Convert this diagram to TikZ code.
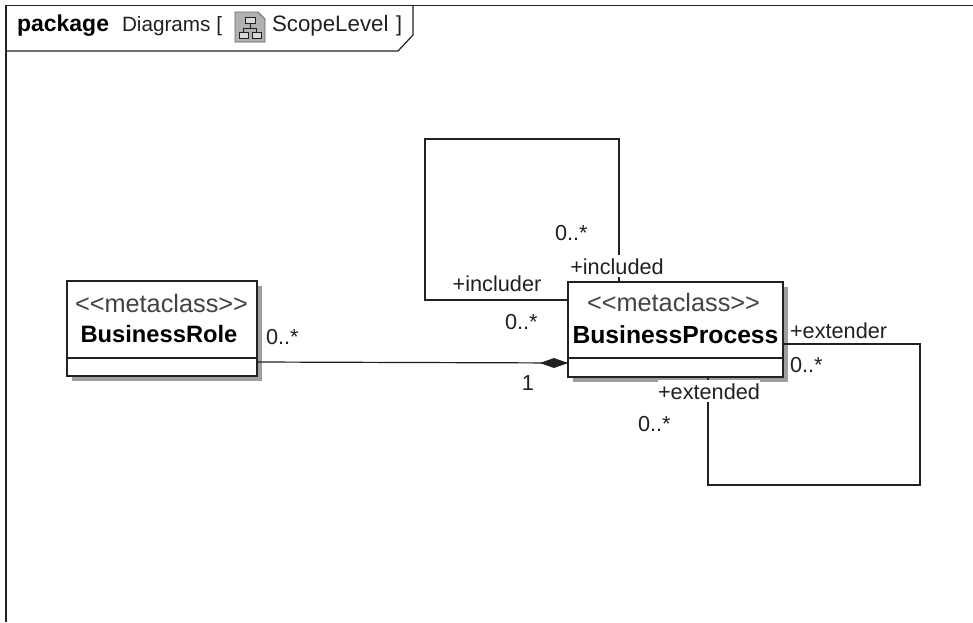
\documentclass[tikz,border=0pt]{standalone}
\usepackage{fontspec}
\setmainfont{Liberation Sans}
\usetikzlibrary{calc,arrows.meta}
\definecolor{ink}{gray}{0.13}
\definecolor{shadowgray}{gray}{0.62}
\tikzset{
  umlbox/.style={draw=ink,line width=1.3pt,fill=white,minimum width=#1,minimum height=95pt,inner sep=0pt,outer sep=0pt},
  umlbox/.default=190pt,
  conn/.style={draw=ink,line width=1.2pt},
  lbl/.style={font=\fontsize{21.7}{21.7}\selectfont,text=ink,inner sep=0pt,outer sep=0pt},
  glbl/.style={lbl,fill=white,inner xsep=0pt,inner ysep=3pt},
  stereo/.style={font=\fontsize{25.3}{25.3}\selectfont,text=ink!85,inner sep=0pt},
  bname/.style={font=\fontsize{24.7}{24.7}\selectfont\bfseries,text=black,inner sep=0pt},
  frameline/.style={draw=ink,line width=1.2pt}
}
\begin{document}
\begin{tikzpicture}[x=1pt,y=-1pt]
\useasboundingbox (0,0) rectangle (973,622);
\fill[white] (0,0) rectangle (973,622);
% frame
\draw[frameline] (6,622) -- (6,5.5) -- (973,5.5);
\draw[frameline] (413,5.5) -- (413,35) -- (398,51) -- (6,51);
\node[lbl,anchor=base west,font=\fontsize{23}{23}\selectfont\bfseries,text=black] (kw) at (17,31) {package};
\node[lbl,anchor=base west,font=\fontsize{20.7}{20.7}\selectfont] (nm) at (122,31) {Diagrams [};
\node[lbl,anchor=base west,font=\fontsize{22.3}{22.3}\selectfont] (sc) at (272,31) {ScopeLevel};
\node[lbl,anchor=base west] (cl) at (396,31) {]};
% icon
\fill[shadowgray!80,draw=ink!70,line width=.8pt] (235,12) -- (258,12) -- (265,19) -- (265,42) -- (235,42) -- cycle;
\draw[ink,line width=.9pt,fill=shadowgray!40] (245,17) rectangle (255,23);
\draw[ink,line width=.9pt,fill=shadowgray!40] (239,32) rectangle (248,38);
\draw[ink,line width=.9pt,fill=shadowgray!40] (252,32) rectangle (261,38);
\draw[ink,line width=.9pt] (250,23) -- (250,28) (243.5,32) -- (243.5,28) -- (256.5,28) -- (256.5,32);
% shadows
\fill[shadowgray] (72,286) rectangle (262,381);
\fill[shadowgray] (573,287) rectangle (788,382);
% boxes
\node[umlbox=190pt,anchor=north west] (role) at (67,281) {};
\node[umlbox=215pt,anchor=north west] (proc) at (568,282) {};
\draw[conn] (role.west |- 0,358) coordinate (rd1) -- (role.east |- 0,358) coordinate (rd2);
\draw[conn] (proc.west |- 0,358) coordinate (pd1) -- (proc.east |- 0,358) coordinate (pd2);
\node[stereo] (rs) at (161.5,303) {<{}<metaclass>{}>};
\node[bname,font=\fontsize{23.7}{23.7}\selectfont\bfseries] (rn) at (159,334) {BusinessRole};
\node[stereo] (ps) at (673.5,302) {<{}<metaclass>{}>};
\node[bname] (pn) at (675.5,335) {BusinessProcess};
% connector bend points
\coordinate (a1) at (425,300);
\coordinate (a2) at (425,139);
\coordinate (a3) at (619,139);
\coordinate (b1) at (920,344);
\coordinate (b2) at (920,485);
\coordinate (b3) at (708,485);
% connectors
\draw[conn] (proc.west |- a1) -- (a1) -- (a2) -- (a3) -- (a3 |- proc.north);
\draw[conn] (proc.east |- b1) -- (b1) -- (b2) -- (b3) -- (b3 |- proc.south);
\coordinate (dtip) at (proc.west |- 0,363);
\draw[conn] (role.east |- 0,362) -- (dtip);
\fill[ink] (dtip) -- ++(-14,-5) -- ++(-14,5) -- ++(14,5) -- cycle;
% labels
\node[glbl,anchor=base] (l1) at (617,274) {+included};
\node[lbl,anchor=base] (l2) at (497,291) {+includer};
\node[lbl,anchor=base west] (l3) at (555,240) {0..*};
\node[lbl,anchor=base west] (l4) at (505,329) {0..*};
\node[lbl,anchor=base west] (l5) at (266,344) {0..*};
\node[lbl,anchor=base] (l6) at (528,390) {1};
\node[lbl,anchor=base west] (l7) at (790,338) {+extender};
\node[lbl,anchor=base west] (l8) at (790,372) {0..*};
\node[glbl,anchor=base] (l9) at (709,399) {+extended};
\node[lbl,anchor=base west] (l10) at (638,431) {0..*};
\end{tikzpicture}
\end{document}
